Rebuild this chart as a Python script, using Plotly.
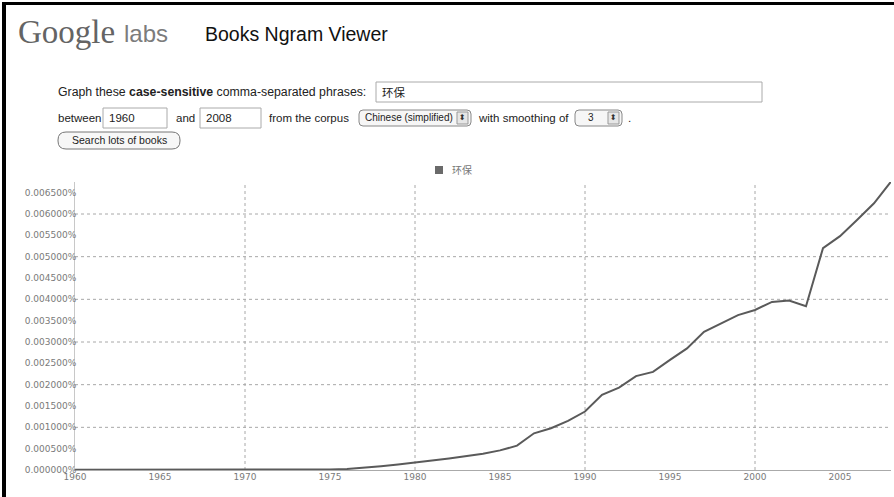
import plotly.graph_objects as go

# ---------------- data ----------------
years = list(range(1960, 2009))
values = [
    0.000004, 0.000004, 0.000004, 0.000004, 0.000004,  # 1960-1964
    0.000005, 0.000005, 0.000005, 0.000005, 0.000005,  # 1965-1969
    0.000006, 0.000006, 0.000007, 0.000008, 0.000010,  # 1970-1974
    0.000014, 0.000025, 0.000050, 0.000090, 0.000130,  # 1975-1979
    0.000170, 0.000220, 0.000270, 0.000320, 0.000380,  # 1980-1984
    0.000460, 0.000570, 0.000860, 0.000980, 0.001150,  # 1985-1989
    0.001370, 0.001760, 0.001930, 0.002200, 0.002300,  # 1990-1994
    0.002580, 0.002850, 0.003240, 0.003440, 0.003630,  # 1995-1999
    0.003750, 0.003940, 0.003970, 0.003840, 0.005200,  # 2000-2004
    0.005480, 0.005860, 0.006250, 0.006760,            # 2005-2008
]
series_name = "环保"
y_tick_vals = [i * 0.0005 for i in range(14)]
y_tick_text = [f"{v:.6f}%" for v in y_tick_vals]
x_tick_vals = list(range(1960, 2009, 5))
x_grid_years = [1970, 1980, 1990, 2000]
y_grid_vals = [0.001, 0.002, 0.003, 0.004, 0.005, 0.006]

# ---------------- geometry helpers ----------------
W, H = 894, 497
L, R, T, B = 75, 891, 182, 470


def px(x):
    return (x - L) / (R - L)


def py(y):
    return (B - y) / (B - T)


fig = go.Figure()
fig.add_trace(go.Scatter(
    x=years, y=values, mode="lines", name=series_name,
    line=dict(color="#5a5a5a", width=2), showlegend=False,
    cliponaxis=False, hoverinfo="skip",
))

shapes = []
annotations = []

# grid lines
for yv in y_grid_vals:
    shapes.append(dict(type="line", xref="paper", yref="y", x0=0, x1=1, y0=yv, y1=yv,
                       line=dict(color="#a8a8a8", width=1, dash="dot"), layer="below"))
for xv in x_grid_years:
    shapes.append(dict(type="line", xref="x", yref="paper", x0=xv, x1=xv, y0=0, y1=1,
                       line=dict(color="#a8a8a8", width=1, dash="dot"), layer="below"))

# legend (square + label)
shapes.append(dict(type="rect", xref="paper", yref="paper",
                   x0=px(435), x1=px(443), y0=py(174), y1=py(166),
                   fillcolor="#6a6a6a", line=dict(width=0)))
annotations.append(dict(xref="paper", yref="paper", x=px(450), y=py(170),
                        text=series_name, showarrow=False, xanchor="left", yanchor="middle",
                        font=dict(family="Noto Sans CJK SC", size=10, color="#777")))

# black frame of the screenshot
shapes.append(dict(type="rect", xref="paper", yref="paper",
                   x0=px(2), x1=px(6), y0=py(H + 5), y1=py(2),
                   fillcolor="black", line=dict(width=0)))
shapes.append(dict(type="rect", xref="paper", yref="paper",
                   x0=px(2), x1=px(W + 5), y0=py(5), y1=py(2),
                   fillcolor="black", line=dict(width=0)))

# header
annotations.append(dict(xref="paper", yref="paper", x=px(16), y=py(32),
                        text="Google", showarrow=False, xanchor="left", yanchor="middle",
                        font=dict(family="Liberation Serif", size=33, color="#646464")))
annotations.append(dict(xref="paper", yref="paper", x=px(122), y=py(33),
                        text="labs", showarrow=False, xanchor="left", yanchor="middle",
                        font=dict(family="Liberation Sans", size=24, color="#7c7c7c")))
annotations.append(dict(xref="paper", yref="paper", x=px(203), y=py(34),
                        text="Books Ngram Viewer", showarrow=False, xanchor="left", yanchor="middle",
                        font=dict(family="Liberation Sans", size=19.5, color="#111")))

form_font = dict(family="Liberation Sans", size=11.5, color="#222")


def text(x, y, s, font=form_font, anchor="left"):
    annotations.append(dict(xref="paper", yref="paper", x=px(x), y=py(y), text=s,
                            showarrow=False, xanchor=anchor, yanchor="middle", font=font))


def box(x0, y0, x1, y1, color="#aaa", fill="white"):
    shapes.append(dict(type="rect", xref="paper", yref="paper",
                       x0=px(x0), x1=px(x1), y0=py(y1), y1=py(y0),
                       fillcolor=fill, line=dict(color=color, width=1)))


def rounded(x0, y0, x1, y1, r=6, color="#888", fill="#f6f6f6"):
    X0, X1 = px(x0), px(x1)
    Y0, Y1 = py(y1), py(y0)
    rx = r / (R - L)
    ry = r / (B - T)
    path = (f"M {X0+rx},{Y0} L {X1-rx},{Y0} Q {X1},{Y0} {X1},{Y0+ry} "
            f"L {X1},{Y1-ry} Q {X1},{Y1} {X1-rx},{Y1} L {X0+rx},{Y1} "
            f"Q {X0},{Y1} {X0},{Y1-ry} L {X0},{Y0+ry} Q {X0},{Y0} {X0+rx},{Y0} Z")
    shapes.append(dict(type="path", xref="paper", yref="paper", path=path,
                       fillcolor=fill, line=dict(color=color, width=1)))


# row 1
text(56, 92, "Graph these <b>case-sensitive</b> comma-separated phrases:",
     font=dict(family="Liberation Sans", size=12.3, color="#222"))
box(376, 82, 762, 102)
text(380, 92, "环保", font=dict(family="Noto Sans CJK SC", size=11.5, color="#222"))

# row 2
text(56, 118, "between")
box(103, 108, 167, 128)
text(107, 118, "1960")
text(174, 118, "and")
box(200, 108, 261, 128)
text(204, 118, "2008")
text(267, 118, "from the corpus")
rounded(359, 110, 471, 126, r=4)
text(363, 118, "Chinese (simplified)", font=dict(family="Liberation Sans", size=10, color="#222"))
box(457, 112, 468, 124, color="#999", fill="#e6e6e6")
text(462.5, 118, "⬍", font=dict(family="DejaVu Sans", size=8, color="#333"), anchor="center")
text(476, 118, "with smoothing of")
rounded(575, 110, 622, 126, r=4)
text(586, 118, "3", font=dict(family="Liberation Sans", size=10, color="#222"))
box(608, 112, 619, 124, color="#999", fill="#e6e6e6")
text(613.5, 118, "⬍", font=dict(family="DejaVu Sans", size=8, color="#333"), anchor="center")
text(626, 118, ".")

# row 3 button
rounded(58, 132, 180, 149, r=8, color="#777", fill="#f7f7f7")
text(119, 140.5, "Search lots of books", font=dict(family="Liberation Sans", size=10.5, color="#222"),
     anchor="center")

axis_font = dict(family="DejaVu Sans", size=9, color="#7a7a7a")

fig.update_layout(
    width=W, height=H,
    margin=dict(l=L, r=W - R, t=T, b=H - B),
    paper_bgcolor="white", plot_bgcolor="white",
    shapes=shapes, annotations=annotations,
    xaxis=dict(range=[1960, 2008], tickvals=x_tick_vals, ticktext=[str(v) for v in x_tick_vals],
               showgrid=False, zeroline=False, showline=True, linecolor="#aaaaaa", linewidth=1,
               ticks="", tickfont=axis_font, ticklabelstandoff=-2, fixedrange=True),
    yaxis=dict(range=[0, 0.00675], tickvals=y_tick_vals, ticktext=y_tick_text,
               showgrid=False, zeroline=False, showline=True, linecolor="#c8c8c8", linewidth=1,
               ticks="", tickfont=axis_font, ticklabelstandoff=-4, fixedrange=True),
    showlegend=False,
)

fig.write_html(
    "out.html",
    config={"displayModeBar": False},
    post_script="document.body.style.margin='0';document.body.style.overflow='hidden';",
)
